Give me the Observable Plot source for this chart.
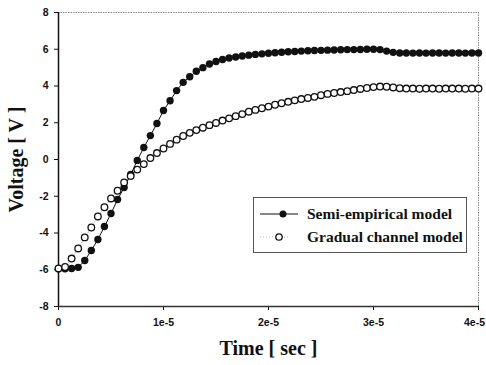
<!DOCTYPE html>
<html>
<head>
<meta charset="utf-8">
<script src="https://cdn.jsdelivr.net/npm/d3@7"></script>
<script src="https://cdn.jsdelivr.net/npm/@observablehq/plot@0.6"></script>
<style>
  html, body { margin: 0; padding: 0; background: white; }
  #wrap { position: relative; width: 486px; height: 365px; overflow: hidden; }
  svg g[aria-label="y-axis label"] text,
  svg g[aria-label="x-axis label"] text {
    font-family: "Liberation Serif", serif; font-weight: bold; font-size: 20px; fill: #111;
  }
  #legend {
    position: absolute; left: 253px; top: 197px; width: 212px; height: 54px;
    border: 1px solid #555; background: white; overflow: hidden;
    font-family: "Liberation Serif", serif; font-weight: bold; font-size: 15.5px; color: #111;
  }
  .row { position: absolute; left: 0; display: flex; align-items: center; white-space: nowrap; }
  .row svg { display: block; }
</style>
</head>
<body>
<div id="wrap"></div>
<script>
// Time in microseconds
const timeUs = [0, 0.625, 1.25, 1.875, 2.5, 3.125, 3.75, 4.375, 5, 5.625, 6.25, 6.875, 7.5,
  8.125, 8.75, 9.375, 10, 10.625, 11.25, 11.875, 12.5, 13.125, 13.75, 14.375, 15, 15.625,
  16.25, 16.875, 17.5, 18.125, 18.75, 19.375, 20, 20.625, 21.25, 21.875, 22.5, 23.125, 23.75,
  24.375, 25, 25.625, 26.25, 26.875, 27.5, 28.125, 28.75, 29.375, 30, 30.625, 31.25, 31.875,
  32.5, 33.125, 33.75, 34.375, 35, 35.625, 36.25, 36.875, 37.5, 38.125, 38.75, 39.375, 40];

const semiEmpirical = [-5.95, -5.95, -5.93, -5.87, -5.5, -4.95, -4.35, -3.65, -2.94, -2.18, -1.52, -0.82, -0.05,
  0.65, 1.3, 1.96, 2.67, 3.2, 3.75, 4.2, 4.5, 4.8, 5.0, 5.2, 5.33, 5.44,
  5.52, 5.58, 5.63, 5.68, 5.72, 5.75, 5.78, 5.81, 5.84, 5.86, 5.88, 5.9, 5.92,
  5.93, 5.94, 5.95, 5.96, 5.97, 5.98, 5.98, 5.99, 6.0, 6.0, 5.98, 5.9, 5.83,
  5.8, 5.8, 5.79, 5.8, 5.79, 5.8, 5.8, 5.79, 5.8, 5.8, 5.79, 5.8, 5.8];

const gradualChannel = [-5.93, -5.85, -5.39, -4.84, -4.24, -3.7, -3.1, -2.6, -2.12, -1.7, -1.25, -0.9, -0.55,
  -0.25, 0.08, 0.35, 0.6, 0.85, 1.08, 1.28, 1.45, 1.6, 1.73, 1.87, 1.99, 2.12,
  2.24, 2.36, 2.47, 2.6, 2.7, 2.79, 2.88, 2.98, 3.06, 3.14, 3.22, 3.29, 3.35,
  3.41, 3.5, 3.57, 3.62, 3.67, 3.72, 3.78, 3.84, 3.89, 3.94, 3.97, 3.96, 3.92,
  3.88, 3.86, 3.86, 3.85, 3.86, 3.86, 3.85, 3.86, 3.86, 3.86, 3.85, 3.86, 3.86];

const xTicks = [0, 1e-5, 2e-5, 3e-5, 4e-5];
const xTickLabels = ["0", "1e-5", "2e-5", "3e-5", "4e-5"];
const yTicks = [-8, -6, -4, -2, 0, 2, 4, 6, 8];
const yTickLabels = ["-8", "-6", "-4", "-2", "0", "2", "4", "6", "8"];
const seriesNames = ["Semi-empirical model", "Gradual channel model"];
const xLabel = "Time [ sec ]";
const yLabel = "Voltage [ V ]";

const semi = timeUs.map((t, i) => ({t: t * 1e-6, v: semiEmpirical[i]}));
const grad = timeUs.map((t, i) => ({t: t * 1e-6, v: gradualChannel[i]}));
const lastTick = xTicks[xTicks.length - 1];

const chart = Plot.plot({
  width: 486, height: 365,
  marginLeft: 58, marginRight: 8, marginTop: 12, marginBottom: 59,
  style: {fontFamily: "'Liberation Sans', Arial, sans-serif", fontWeight: "bold", fontSize: "10.5px", background: "white", color: "#111"},
  x: {domain: [0, 4e-5]},
  y: {domain: [-8, 8]},
  marks: [
    Plot.ruleY([8], {stroke: "#888", strokeDasharray: "1.5,1", strokeWidth: 1}),
    Plot.ruleX([4e-5], {stroke: "#888", strokeDasharray: "1.5,1", strokeWidth: 1}),
    Plot.axisX({ticks: xTicks, tickFormat: (d, i) => (d === lastTick ? "" : xTickLabels[i]), tickSize: 4, tickPadding: 8,
      label: xLabel, labelAnchor: "center", labelArrow: "none", labelOffset: 48}),
    Plot.axisX({ticks: [lastTick], tickFormat: () => xTickLabels[xTickLabels.length - 1], tickSize: 0, tickPadding: 12,
      label: null, dx: -4}),
    Plot.axisY({ticks: yTicks, tickFormat: (d, i) => yTickLabels[i], tickSize: 4, tickPadding: 6,
      label: yLabel, labelAnchor: "center", labelArrow: "none", labelOffset: 50}),
    Plot.ruleY([-8], {stroke: "#333", strokeWidth: 1.5}),
    Plot.ruleX([0], {stroke: "#111", strokeWidth: 1.5}),
    Plot.line(grad, {x: "t", y: "v", stroke: "#aaa", strokeWidth: 0.8, strokeDasharray: "1,2"}),
    Plot.line(semi, {x: "t", y: "v", stroke: "#111", strokeWidth: 1}),
    Plot.dot(semi, {x: "t", y: "v", r: 3.7, fill: "#111", stroke: "none"}),
    Plot.dot(grad, {x: "t", y: "v", r: 3.3, fill: "white", stroke: "#111", strokeWidth: 1.3})
  ]
});
const wrap = document.getElementById("wrap");
wrap.appendChild(chart);

// Legend
const legend = document.createElement("div");
legend.id = "legend";
const rowsSpec = [
  {top: 7, swatch: `<svg width="52" height="12"><line x1="6" y1="6" x2="44" y2="6" stroke="#111" stroke-width="1"/><circle cx="29" cy="6" r="3.5" fill="#111"/></svg>`},
  {top: 30, swatch: `<svg width="52" height="12"><line x1="6" y1="6" x2="36" y2="6" stroke="#aaa" stroke-width="0.8" stroke-dasharray="1,2"/><circle cx="25" cy="6" r="3.2" fill="white" stroke="#111" stroke-width="1.3"/></svg>`}
];
rowsSpec.forEach((r, i) => {
  const row = document.createElement("div");
  row.className = "row";
  row.style.top = r.top + "px";
  row.innerHTML = r.swatch + `<span style="margin-left:1px">${seriesNames[i]}</span>`;
  legend.appendChild(row);
});
wrap.appendChild(legend);
</script>
</body>
</html>
